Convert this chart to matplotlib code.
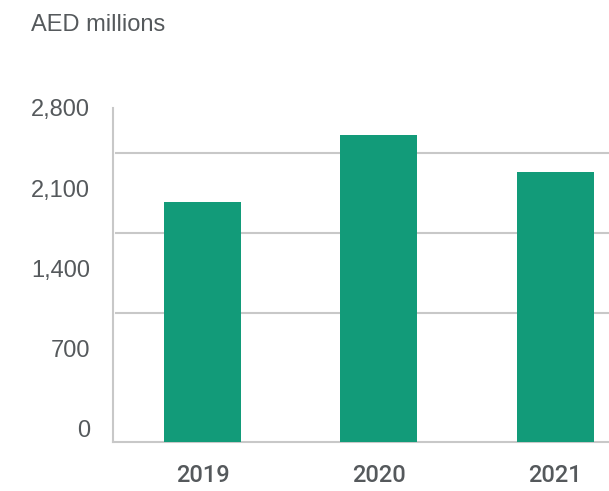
import matplotlib
matplotlib.use("Agg")
import matplotlib.pyplot as plt

years = ["2019", "2020", "2021"]
values = [1975, 2565, 2240]
tick_values = [0, 700, 1400, 2100, 2800]
tick_labels = ["0", "700", "1,400", "2,100", "2,800"]
grid_values = [1005, 1710, 2405]

green = "#129b79"
text_col = "#55595c"
line_col = "#c8c8c8"

plt.rcParams["font.family"] = ["Liberation Sans", "DejaVu Sans"]

fig = plt.figure(figsize=(6.09, 4.91), dpi=100)
ax = fig.add_axes([113 / 609, 1 - 442 / 491, 1 - 113 / 609, (442 - 108) / 491])

ymin, ymax = -120, 2746
x = list(range(len(years)))
ax.bar(x, [v - ymin for v in values], bottom=ymin, width=0.4365, color=green, zorder=3)

for g in grid_values:
    ax.axhline(g, xmin=0.006, xmax=1, color=line_col, lw=1.5, zorder=1)

ax.set_ylim(ymin, ymax)
ax.set_xlim(-0.507, 2.304)

ax.set_yticks(tick_values)
ax.set_yticklabels(tick_labels, fontsize=17, color=text_col)
ax.set_xticks(x)
ax.set_xticklabels(years, fontsize=17, color=text_col, fontweight=500,
                   family=["Roboto", "DejaVu Sans"])
ax.tick_params(axis="y", length=0, pad=16.5)
ax.tick_params(axis="x", length=0, pad=16)

for s in ["top", "right"]:
    ax.spines[s].set_visible(False)
for s in ["left", "bottom"]:
    ax.spines[s].set_color(line_col)
    ax.spines[s].set_linewidth(1.5)

fig.text(31 / 609, 1 - 25 / 491, "AED millions", fontsize=17, color=text_col,
         ha="left", va="center")

fig.savefig("out.png", dpi=100)
